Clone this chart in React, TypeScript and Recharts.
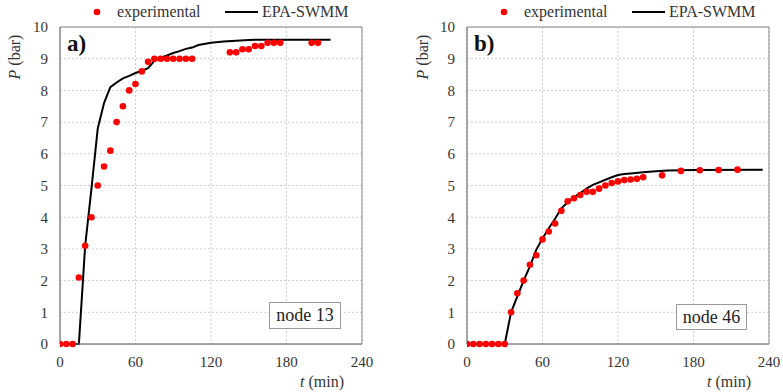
import React from 'react';
import {
  ComposedChart,
  Line,
  Scatter,
  XAxis,
  YAxis,
  CartesianGrid,
  ReferenceArea,
} from 'recharts';

// ---- data ----
const xTicks = [0, 60, 120, 180, 240];
const yTicks = [0, 1, 2, 3, 4, 5, 6, 7, 8, 9, 10];

const node13ExpT = [0, 5, 10, 15, 20, 25, 30, 35, 40, 45, 50, 55, 60, 65, 70, 75, 80, 85, 90, 95, 100, 105, 135, 140, 145, 150, 155, 160, 165, 170, 175, 200, 205];
const node13ExpP = [0, 0, 0, 2.1, 3.1, 4.0, 5.0, 5.6, 6.1, 7.0, 7.5, 8.0, 8.2, 8.6, 8.9, 9.0, 9.0, 9.0, 9.0, 9.0, 9.0, 9.0, 9.2, 9.2, 9.3, 9.3, 9.4, 9.4, 9.5, 9.5, 9.5, 9.5, 9.5];
const node13SimT = [0, 15, 20, 25, 30, 35, 40, 45, 50, 55, 60, 65, 70, 75, 80, 85, 90, 95, 100, 105, 110, 120, 130, 140, 150, 160, 215];
const node13SimP = [0, 0, 3.1, 4.9, 6.8, 7.6, 8.1, 8.25, 8.38, 8.46, 8.55, 8.62, 8.7, 8.93, 9.03, 9.1, 9.18, 9.24, 9.31, 9.35, 9.43, 9.5, 9.54, 9.57, 9.59, 9.6, 9.6];

const node46ExpT = [0, 5, 10, 15, 20, 25, 30, 35, 40, 45, 50, 55, 60, 65, 70, 75, 80, 85, 90, 95, 100, 105, 110, 115, 120, 125, 130, 135, 140, 155, 170, 185, 200, 215];
const node46ExpP = [0, 0, 0, 0, 0, 0, 0, 1.0, 1.6, 2.0, 2.5, 2.8, 3.3, 3.55, 3.8, 4.2, 4.5, 4.6, 4.7, 4.8, 4.8, 4.9, 5.0, 5.08, 5.13, 5.17, 5.19, 5.21, 5.26, 5.32, 5.46, 5.48, 5.49, 5.5];
const node46SimT = [0, 30, 35, 40, 45, 50, 55, 60, 65, 70, 75, 80, 85, 90, 95, 100, 105, 110, 115, 120, 125, 130, 140, 150, 160, 170, 180, 235];
const node46SimP = [0, 0, 1.0, 1.5, 2.0, 2.45, 2.97, 3.33, 3.65, 3.95, 4.28, 4.47, 4.63, 4.76, 4.9, 5.02, 5.1, 5.18, 5.26, 5.33, 5.36, 5.38, 5.42, 5.45, 5.47, 5.48, 5.49, 5.5];

const legendLabels = ['experimental', 'EPA-SWMM'];
const panelLabels = ['a)', 'b)'];
const nodeLabels = ['node 13', 'node 46'];

const zip = (t: number[], p: number[]) => t.map((v, i) => ({ t: v, p: p[i] }));

const FONT = "'Liberation Serif', 'Times New Roman', serif";
const TEXT = '#333333';
const AXIS = '#8a8a8a';

type PanelProps = {
  left: number;
  width: number;
  margin: { top: number; right: number; bottom: number; left: number };
  exp: { t: number; p: number }[];
  sim: { t: number; p: number }[];
  panel: string;
  node: string;
  legendDotX: number;
  yLabelX: number;
  box: { x: number; y: number; w: number; h: number };
  tLabelX: number;
};

function Panel(props: PanelProps) {
  const { left, width, margin, exp, sim, panel, node, legendDotX, yLabelX, box, tLabelX } = props;
  const plotLeft = margin.left + 50;
  const yLabel = () => (
    <text
      x={yLabelX}
      y={57}
      transform={`rotate(-90, ${yLabelX}, 57)`}
      textAnchor="middle"
      dominantBaseline="central"
      fontSize={16}
      fill={TEXT}
      fontFamily={FONT}
    >
      <tspan fontStyle="italic">P</tspan>
      <tspan> (bar)</tspan>
    </text>
  );
  const xLabel = () => (
    <text x={tLabelX} y={381} textAnchor="start" dominantBaseline="central" fontSize={16} fill={TEXT} fontFamily={FONT}>
      <tspan fontStyle="italic">t</tspan>
      <tspan> (min)</tspan>
    </text>
  );
  return (
    <div style={{ position: 'absolute', left, top: 0, width, height: 392, fontFamily: FONT }}>
      <ComposedChart width={width} height={392} margin={margin} style={{ fontFamily: FONT }}>
        <CartesianGrid stroke="#cfcfcf" strokeDasharray="2 2" />
        <XAxis
          dataKey="t"
          type="number"
          domain={[0, 240]}
          ticks={xTicks}
          allowDataOverflow
          height={30}
          tickSize={0}
          tickMargin={12}
          axisLine={{ stroke: AXIS }}
          tick={{ fill: TEXT, fontSize: 15, fontFamily: FONT }}
          label={{ content: xLabel }}
        />
        <YAxis
          dataKey="p"
          type="number"
          domain={[0, 10]}
          ticks={yTicks}
          width={50}
          tickSize={0}
          tickMargin={12}
          axisLine={{ stroke: AXIS }}
          tick={{ fill: TEXT, fontSize: 15, fontFamily: FONT }}
          label={{ content: yLabel }}
        />
        <ReferenceArea x1={0} x2={240} y1={0} y2={10} fill="none" stroke={AXIS} strokeOpacity={1} />
        <Line
          data={sim}
          dataKey="p"
          type="linear"
          stroke="#000000"
          strokeWidth={2}
          dot={false}
          activeDot={false}
          isAnimationActive={false}
        />
        <Scatter data={exp} dataKey="p" fill="#ff0000" isAnimationActive={false} shape={(s: any) => <circle cx={s.cx} cy={s.cy} r={3.3} fill="#ff0000" />} />
      </ComposedChart>

      {/* legend */}
      <div style={{ position: 'absolute', left: 0, top: 0, width, height: 26, pointerEvents: 'none' }}>
        <svg width={width} height={26} style={{ position: 'absolute', left: 0, top: 0 }}>
          <circle cx={legendDotX} cy={12} r={3.3} fill="#ff0000" />
          <line x1={legendDotX + 128} x2={legendDotX + 161} y1={12} y2={12} stroke="#000" strokeWidth={2} />
        </svg>
        <span style={{ position: 'absolute', left: legendDotX + 20, top: 2, fontSize: 16, color: TEXT, whiteSpace: 'nowrap', lineHeight: '20px' }}>
          {legendLabels[0]}
        </span>
        <span style={{ position: 'absolute', left: legendDotX + 165, top: 2, fontSize: 16, color: TEXT, whiteSpace: 'nowrap', lineHeight: '20px' }}>
          {legendLabels[1]}
        </span>
      </div>

      {/* panel label */}
      <div style={{ position: 'absolute', left: plotLeft + 7, top: 30, fontSize: 23, fontWeight: 'bold', color: '#111', lineHeight: '28px' }}>
        {panel}
      </div>

      {/* node box */}
      <div
        style={{
          position: 'absolute',
          left: box.x,
          top: box.y,
          width: box.w,
          height: box.h,
          boxSizing: 'border-box',
          border: '1px solid #9a9a9a',
          background: '#fff',
          fontSize: 18,
          color: '#222',
          textAlign: 'center',
          lineHeight: `${box.h - 2}px`,
          whiteSpace: 'nowrap',
        }}
      >
        {node}
      </div>
    </div>
  );
}

export default function App() {
  return (
    <div style={{ position: 'absolute', left: 0, top: 0, width: 783, height: 392, background: '#fff' }}>
      <style>{`#root, #root * { font-family: 'Liberation Serif', 'Times New Roman', serif !important; }`}</style>
      <Panel
        left={0}
        width={390}
        margin={{ top: 27, right: 28, bottom: 18, left: 10 }}
        exp={zip(node13ExpT, node13ExpP)}
        sim={zip(node13SimT, node13SimP)}
        panel={panelLabels[0]}
        node={nodeLabels[0]}
        legendDotX={97}
        yLabelX={14}
        box={{ x: 269, y: 302, w: 72, h: 27 }}
        tLabelX={300}
      />
      <Panel
        left={390}
        width={393}
        margin={{ top: 27, right: 14, bottom: 18, left: 27 }}
        exp={zip(node46ExpT, node46ExpP)}
        sim={zip(node46SimT, node46SimP)}
        panel={panelLabels[1]}
        node={nodeLabels[1]}
        legendDotX={114}
        yLabelX={32}
        box={{ x: 286, y: 304, w: 71, h: 26 }}
        tLabelX={317}
      />
    </div>
  );
}
